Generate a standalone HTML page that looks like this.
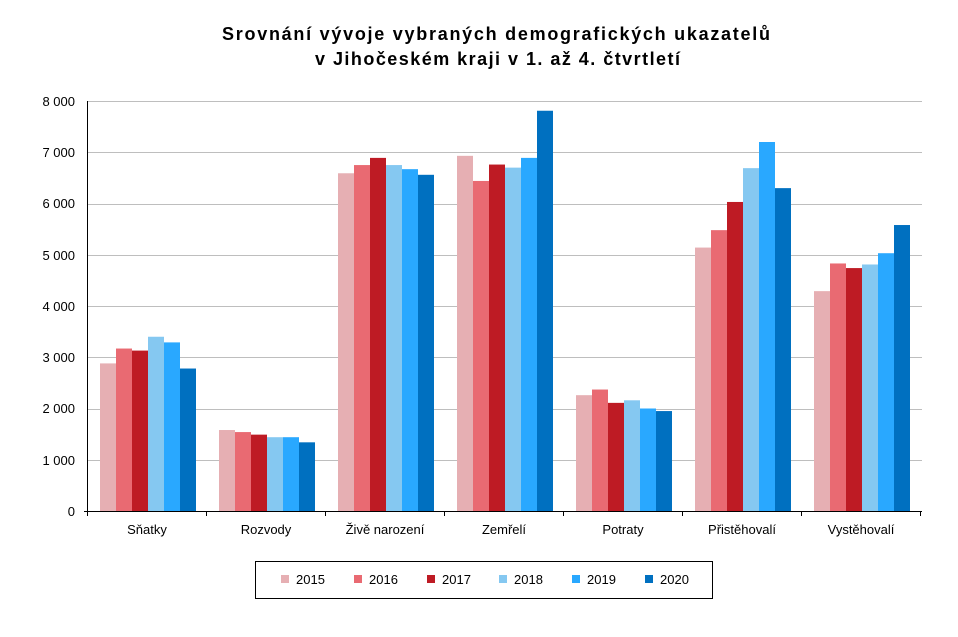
<!DOCTYPE html>
<html><head><meta charset="utf-8"><style>
body{margin:0;background:#fff;}
svg text{font-family:"Liberation Sans",Arial,sans-serif;}
</style></head><body>
<svg id="s" width="958" height="632" xmlns="http://www.w3.org/2000/svg">
<rect width="958" height="632" fill="#fff"/>
<text x="222" y="40" font-size="18" font-weight="bold" textLength="548" lengthAdjust="spacing">Srovnání vývoje vybraných demografických ukazatelů</text>
<text x="315" y="65" font-size="18" font-weight="bold" textLength="365" lengthAdjust="spacing">v Jihočeském kraji v 1. až 4. čtvrtletí</text>
<g id="grid"></g>
<g id="bars"></g>
<line x1="87.5" y1="101" x2="87.5" y2="511" stroke="#000"/>
<line x1="84" y1="511.5" x2="922" y2="511.5" stroke="#000"/>
<g font-size="13" text-anchor="end" fill="#000">
<text x="75" y="106">8 000</text><text x="75" y="157">7 000</text><text x="75" y="208">6 000</text>
<text x="75" y="260">5 000</text><text x="75" y="311">4 000</text><text x="75" y="362">3 000</text>
<text x="75" y="413">2 000</text><text x="75" y="465">1 000</text><text x="75" y="516">0</text>
</g>
<g font-size="13" text-anchor="middle">
<text x="147" y="534">Sňatky</text><text x="266" y="534">Rozvody</text><text x="385" y="534">Živě narození</text>
<text x="504" y="534">Zemřelí</text><text x="623" y="534">Potraty</text><text x="742" y="534">Přistěhovalí</text>
<text x="861" y="534">Vystěhovalí</text>
</g>
<rect x="255.5" y="561.5" width="457" height="37" fill="none" stroke="#000"/>
<g font-size="13">
<rect x="281" y="575" width="8" height="8" fill="#E6AFB3"/><text x="296" y="584">2015</text>
<rect x="354" y="575" width="8" height="8" fill="#E96A72"/><text x="369" y="584">2016</text>
<rect x="427" y="575" width="8" height="8" fill="#BE1B24"/><text x="442" y="584">2017</text>
<rect x="499" y="575" width="8" height="8" fill="#85C8F1"/><text x="514" y="584">2018</text>
<rect x="572" y="575" width="8" height="8" fill="#29A8FF"/><text x="587" y="584">2019</text>
<rect x="645" y="575" width="8" height="8" fill="#0070C0"/><text x="660" y="584">2020</text>
</g>
</svg>
<script>
var NS="http://www.w3.org/2000/svg";
var g=document.getElementById("grid"),b=document.getElementById("bars");
for(var i=1;i<=8;i++){var y=Math.round(511-i*51.25)+0.5;var l=document.createElementNS(NS,"line");
l.setAttribute("x1",88);l.setAttribute("x2",922);l.setAttribute("y1",y);l.setAttribute("y2",y);l.setAttribute("stroke","#BEBEBE");g.appendChild(l);}
for(var k=0;k<=7;k++){var l=document.createElementNS(NS,"line");var x=87.5+k*119;
l.setAttribute("x1",x);l.setAttribute("x2",x);l.setAttribute("y1",511);l.setAttribute("y2",516);l.setAttribute("stroke","#000");document.getElementById("s").appendChild(l);}
var cols=["#E6AFB3","#E96A72","#BE1B24","#85C8F1","#29A8FF","#0070C0"];
var d=[[2880,3170,3130,3400,3290,2780],[1580,1540,1490,1440,1440,1340],[6590,6750,6890,6750,6670,6560],
[6930,6440,6760,6700,6890,7810],[2260,2370,2110,2160,2000,1950],[5140,5480,6030,6690,7200,6300],[4290,4830,4740,4810,5030,5580]];
for(var c=0;c<7;c++)for(var s=0;s<6;s++){var v=d[c][s];var h=v*0.05125;var r=document.createElementNS(NS,"rect");
r.setAttribute("x",100+c*119+s*16);r.setAttribute("width",16);r.setAttribute("y",511-h);r.setAttribute("height",h);r.setAttribute("fill",cols[s]);b.appendChild(r);}
</script>
</body></html>
